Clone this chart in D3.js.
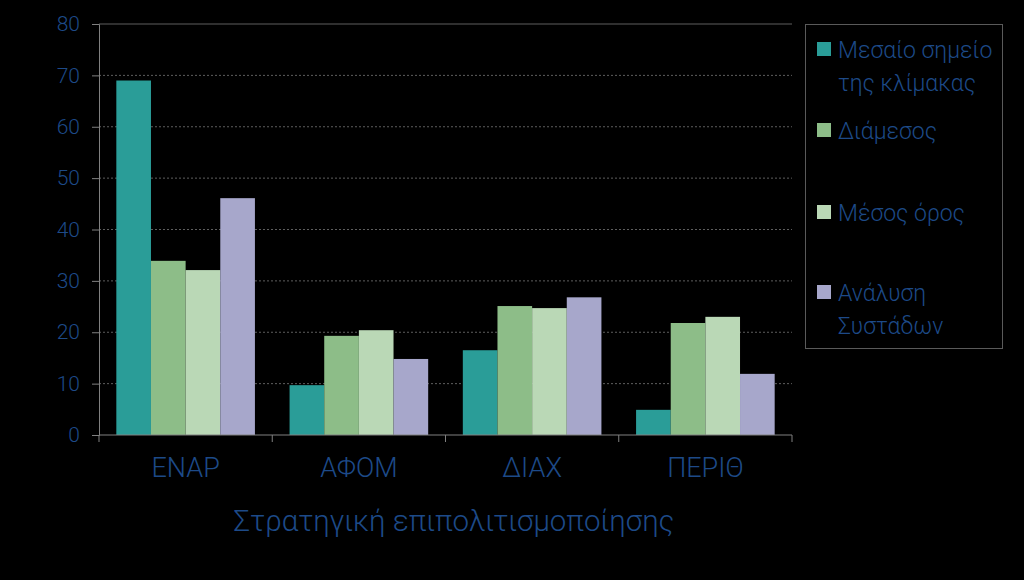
<!DOCTYPE html>
<html>
<head>
<meta charset="utf-8">
<script src="https://cdn.jsdelivr.net/npm/d3@7"></script>
<style>
  body { margin: 0; background: #000; }
  svg { display: block; background: #000; }
  text { font-family: Roboto, "Noto Sans", sans-serif; font-weight: 300; fill: #1d4a88; }
</style>
</head>
<body>
<svg width="1024" height="580"></svg>
<script>
// data
const categories = ["ΕΝΑΡ", "ΑΦΟΜ", "ΔΙΑΧ", "ΠΕΡΙΘ"];
const seriesNames = [["Μεσαίο σημείο", "της κλίμακας"], ["Διάμεσος"], ["Μέσος όρος"], ["Ανάλυση", "Συστάδων"]];
const midpoint = [69, 9.7, 16.5, 4.9];
const median = [33.9, 19.3, 25.1, 21.8];
const mean = [32.1, 20.4, 24.7, 23];
const cluster = [46.1, 14.8, 26.8, 11.9];
const yTicks = [0, 10, 20, 30, 40, 50, 60, 70, 80];
const axisTitle = "Στρατηγική επιπολιτισμοποίησης";

const series = [midpoint, median, mean, cluster];
const colors = ["#2a9d98", "#8dbd88", "#bad8b6", "#a7a7cb"];

const svg = d3.select("svg");
const plotLeft = 99, plotRight = 792, plotTop = 24, plotBottom = 435;

const x0 = d3.scaleBand().domain(categories).range([plotLeft, plotRight]).paddingInner(0.2).paddingOuter(0.1);
const x1 = d3.scaleBand().domain(d3.range(series.length)).range([0, x0.bandwidth()]);
const y = d3.scaleLinear().domain([0, 80]).range([plotBottom, plotTop]);

// gridlines
svg.append("g").selectAll("line")
    .data(yTicks.filter(d => d > 0))
    .enter().append("line")
    .attr("x1", plotLeft).attr("x2", plotRight)
    .attr("y1", d => y(d)).attr("y2", d => y(d))
    .attr("stroke", "#5e5e5e")
    .attr("stroke-dasharray", d => d === 80 ? null : "2,2");

// bars
const groups = svg.append("g").selectAll("g")
    .data(categories)
    .enter().append("g")
    .attr("transform", d => `translate(${x0(d)},0)`);

groups.selectAll("rect")
    .data((c, i) => series.map((s, k) => ({ k: k, v: s[i] })))
    .enter().append("rect")
    .attr("x", d => x1(d.k))
    .attr("width", x1.bandwidth())
    .attr("y", d => y(d.v))
    .attr("height", d => y(0) - y(d.v))
    .attr("fill", d => colors[d.k]);

// y axis
const yAxis = svg.append("g")
    .attr("transform", `translate(${plotLeft},0)`)
    .call(d3.axisLeft(y).tickValues(yTicks).tickSize(7).tickPadding(12));
yAxis.select(".domain").attr("stroke", "#808080");
yAxis.selectAll(".tick line").attr("stroke", "#808080");
yAxis.selectAll(".tick text")
    .style("font-size", "21px")
    .style("font-family", "Roboto, sans-serif")
    .attr("fill", "#1d4a88");

// x axis with ticks on category boundaries
svg.append("line")
    .attr("x1", plotLeft).attr("x2", plotRight)
    .attr("y1", plotBottom).attr("y2", plotBottom)
    .attr("stroke", "#808080");
const step = x0.step();
svg.append("g").selectAll("line")
    .data(d3.range(categories.length + 1))
    .enter().append("line")
    .attr("x1", d => plotLeft + d * step).attr("x2", d => plotLeft + d * step)
    .attr("y1", plotBottom).attr("y2", plotBottom + 7)
    .attr("stroke", "#808080");

svg.append("g").selectAll("text")
    .data(categories)
    .enter().append("text")
    .attr("x", d => x0(d) + x0.bandwidth() / 2)
    .attr("y", 477)
    .attr("text-anchor", "middle")
    .style("font-size", "27px")
    .text(d => d);

svg.append("text")
    .attr("x", 454)
    .attr("y", 531)
    .attr("text-anchor", "middle")
    .style("font-size", "29.5px")
    .text(axisTitle);

// legend
svg.append("rect")
    .attr("x", 805.5).attr("y", 24.5)
    .attr("width", 197).attr("height", 324)
    .attr("fill", "none")
    .attr("stroke", "#5a5a5a");

const legendY = [49, 130, 212, 292];
const leg = svg.append("g").selectAll("g")
    .data(seriesNames)
    .enter().append("g")
    .attr("transform", (d, i) => `translate(817,${legendY[i]})`);

leg.append("rect")
    .attr("x", 0).attr("y", -7)
    .attr("width", 14).attr("height", 14)
    .attr("fill", (d, i) => colors[i]);

leg.append("text")
    .attr("x", 21)
    .attr("y", 9)
    .style("font-size", "23px")
    .selectAll("tspan")
    .data(d => d)
    .enter().append("tspan")
    .attr("x", 21)
    .attr("dy", (d, i) => i === 0 ? 0 : 33)
    .text(d => d);
</script>
</body>
</html>
